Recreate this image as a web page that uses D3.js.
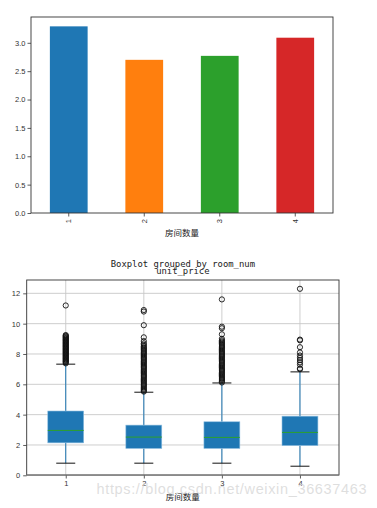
<!DOCTYPE html>
<html><head><meta charset="utf-8">
<script src="https://cdn.jsdelivr.net/npm/d3@7"></script>
<style>body{margin:0;background:#fff}svg{display:block}</style>
</head><body>
<svg id="c" width="377" height="508"></svg>
<script>
const categories = ["1","2","3","4"];
const meanPrice = [3.29, 2.70, 2.77, 3.09];
const barColors = ["#1f77b4","#ff7f0e","#2ca02c","#d62728"];
const barTicks = [0,0.5,1.0,1.5,2.0,2.5,3.0];
const boxTicks = [0,2,4,6,8,10,12];
const whiskLow = [0.80, 0.80, 0.80, 0.60];
const q1 = [2.14, 1.77, 1.77, 1.96];
const median = [2.96, 2.52, 2.50, 2.83];
const q3 = [4.24, 3.31, 3.53, 3.90];
const whiskHigh = [7.33, 5.48, 6.09, 6.82];
const fliers1 = [7.38,7.45,7.5,7.55,7.6,7.65,7.7,7.75,7.8,7.85,7.9,7.95,8.0,8.05,8.1,8.15,8.2,8.25,8.3,8.35,8.4,8.45,8.5,8.55,8.6,8.65,8.7,8.75,8.8,8.85,8.9,8.95,9.0,9.05,9.1,9.15,9.2,9.25,11.2];
const fliers2 = [5.52,5.58,5.65,5.72,5.8,5.88,5.95,6.02,6.1,6.18,6.25,6.32,6.4,6.48,6.55,6.62,6.7,6.78,6.85,6.92,7.0,7.08,7.15,7.22,7.3,7.38,7.45,7.52,7.6,7.68,7.75,7.82,7.9,7.98,8.05,8.12,8.2,8.28,8.35,8.42,8.5,8.6,8.7,8.85,9.1,9.9,10.8,10.9];
const fliers3 = [6.12,6.2,6.28,6.35,6.42,6.5,6.58,6.65,6.72,6.8,6.88,6.95,7.02,7.1,7.18,7.25,7.32,7.4,7.48,7.55,7.62,7.7,7.78,7.85,7.92,8.0,8.08,8.15,8.22,8.3,8.38,8.45,8.52,8.6,8.68,8.75,8.82,8.9,9.0,9.3,9.7,9.8,11.6];
const fliers4 = [7.0,7.05,7.3,7.45,7.6,7.75,7.9,8.1,8.45,8.9,8.95,12.3];
const fliers = [fliers1, fliers2, fliers3, fliers4];
const xLabel = "房间数量";
const title1 = "Boxplot grouped by room_num";
const title2 = "unit_price";
const watermark = "https://blog.csdn.net/weixin_36637463";

const svg = d3.select("#c");
const tickFont = "'Liberation Sans', Arial, sans-serif";
const cjk = "'Noto Sans CJK SC', sans-serif";

// ---------- Bar chart ----------
const b = {l:31, r:333, t:17, b:213};
const xb = d3.scaleBand().domain(categories).range([b.l, b.r]).paddingInner(0.5).paddingOuter(0.25);
const yb = d3.scaleLinear().domain([0, 3.455]).range([b.b, b.t]);
const g1 = svg.append("g");
g1.selectAll("rect.bar").data(categories).join("rect")
  .attr("x", d => xb(d)).attr("width", xb.bandwidth())
  .attr("y", (d,i) => yb(meanPrice[i])).attr("height", (d,i) => yb(0) - yb(meanPrice[i]))
  .attr("fill", (d,i) => barColors[i]);
const ax1 = g1.append("g").attr("transform", `translate(${b.l},0)`)
  .call(d3.axisLeft(yb).tickValues(barTicks).tickFormat(d3.format(".1f")).tickSize(3.5).tickPadding(2));
const ax1x = g1.append("g").attr("transform", `translate(0,${b.b})`)
  .call(d3.axisBottom(xb).tickSize(3.5).tickPadding(2));
ax1x.selectAll("text").attr("transform", "rotate(-90)").attr("text-anchor", "end")
  .attr("dy", "0.35em").attr("x", -6).attr("y", 0);
[ax1, ax1x].forEach(a => {
  a.select(".domain").remove();
  a.selectAll("text").attr("font-family", tickFont).attr("font-size", 7.5).attr("fill", "#333");
  a.selectAll("line").attr("stroke", "#333").attr("stroke-width", 0.8);
});
g1.append("rect").attr("x", b.l).attr("y", b.t).attr("width", b.r - b.l).attr("height", b.b - b.t)
  .attr("fill", "none").attr("stroke", "#333").attr("stroke-width", 0.9);
g1.append("text").attr("x", (b.l + b.r)/2).attr("y", 236).attr("text-anchor", "middle")
  .attr("font-family", cjk).attr("font-size", 8.5).attr("fill", "#222").text(xLabel);

// ---------- Box plot ----------
const p = {l:26.7, r:339, t:280, b:475};
const xp = d3.scaleLinear().domain([0.5, 4.5]).range([p.l, p.r]);
const yp = d3.scaleLinear().domain([0.02, 12.88]).range([p.b, p.t]);
const g2 = svg.append("g");
// grid
g2.selectAll("line.hg").data(boxTicks).join("line")
  .attr("x1", p.l).attr("x2", p.r).attr("y1", d => yp(d)).attr("y2", d => yp(d))
  .attr("stroke", "#c8c8c8").attr("stroke-width", 0.9);
g2.selectAll("line.vg").data(categories).join("line")
  .attr("x1", (d,i) => xp(i+1)).attr("x2", (d,i) => xp(i+1)).attr("y1", p.t).attr("y2", p.b)
  .attr("stroke", "#c8c8c8").attr("stroke-width", 0.9);
const bw = 0.46 * (xp(2) - xp(1));
const cw = 0.25 * (xp(2) - xp(1)) * 1.0;
categories.forEach((c, i) => {
  const cx = xp(i+1);
  g2.append("line").attr("x1", cx).attr("x2", cx).attr("y1", yp(whiskLow[i])).attr("y2", yp(q1[i]))
    .attr("stroke", "#1f77b4").attr("stroke-width", 1);
  g2.append("line").attr("x1", cx).attr("x2", cx).attr("y1", yp(q3[i])).attr("y2", yp(whiskHigh[i]))
    .attr("stroke", "#1f77b4").attr("stroke-width", 1);
  g2.append("rect").attr("x", cx - bw/2).attr("width", bw)
    .attr("y", yp(q3[i])).attr("height", yp(q1[i]) - yp(q3[i]))
    .attr("fill", "#1f77b4").attr("stroke", "#8fbfe0").attr("stroke-width", 0.6);
  g2.append("line").attr("x1", cx - bw/2).attr("x2", cx + bw/2).attr("y1", yp(median[i])).attr("y2", yp(median[i]))
    .attr("stroke", "#2ca02c").attr("stroke-width", 1);
  [whiskLow[i], whiskHigh[i]].forEach(v => {
    g2.append("line").attr("x1", cx - 9.5).attr("x2", cx + 9.5).attr("y1", yp(v)).attr("y2", yp(v))
      .attr("stroke", "#111").attr("stroke-width", 1);
  });
  g2.selectAll(null).data(fliers[i]).join("circle")
    .attr("cx", cx).attr("cy", d => yp(d)).attr("r", 2.6)
    .attr("fill", "none").attr("stroke", "#111").attr("stroke-width", 0.9);
});
const ax2 = g2.append("g").attr("transform", `translate(${p.l},0)`)
  .call(d3.axisLeft(yp).tickValues(boxTicks).tickSize(3.5).tickPadding(3));
const ax2x = g2.append("g").attr("transform", `translate(0,${p.b})`)
  .call(d3.axisBottom(xp).tickValues([1,2,3,4]).tickFormat((d) => categories[d-1]).tickSize(3.5).tickPadding(2));
[ax2, ax2x].forEach(a => {
  a.select(".domain").remove();
  a.selectAll("text").attr("font-family", tickFont).attr("font-size", 7.5).attr("fill", "#333");
  a.selectAll("line").attr("stroke", "#333").attr("stroke-width", 0.8);
});
g2.append("rect").attr("x", p.l).attr("y", p.t).attr("width", p.r - p.l).attr("height", p.b - p.t)
  .attr("fill", "none").attr("stroke", "#333").attr("stroke-width", 0.9);
g2.append("line").attr("x1", p.l).attr("x2", p.r).attr("y1", p.b).attr("y2", p.b)
  .attr("stroke", "#888").attr("stroke-width", 1);
g2.append("text").attr("x", (p.l + p.r)/2).attr("y", 267).attr("text-anchor", "middle")
  .attr("font-family", "'DejaVu Sans Mono', monospace").attr("font-size", 8.9).attr("fill", "#222").text(title1);
g2.append("text").attr("x", (p.l + p.r)/2).attr("y", 274).attr("text-anchor", "middle")
  .attr("font-family", "'DejaVu Sans Mono', monospace").attr("font-size", 8.9).attr("fill", "#222").text(title2);
g2.append("text").attr("x", (p.l + p.r)/2).attr("y", 500).attr("text-anchor", "middle")
  .attr("font-family", cjk).attr("font-size", 8.5).attr("fill", "#222").text(xLabel);
svg.append("text").attr("x", 96.5).attr("y", 494).attr("textLength", 270)
  .attr("font-family", tickFont).attr("font-size", 14.5).attr("fill", "#d9d9d9").attr("fill-opacity", 0.85)
  .text(watermark);
</script>
</body></html>
